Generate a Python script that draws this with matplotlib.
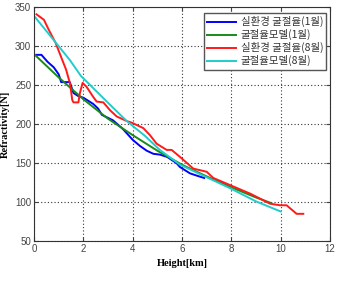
import matplotlib
matplotlib.use("Agg")
import matplotlib.pyplot as plt

# Data
blue_x = [0.1, 0.3, 0.55, 0.8, 1.0, 1.1, 1.45, 1.6, 1.8, 2.0, 2.4, 2.6, 2.75, 3.2, 3.6, 4.0, 4.3, 4.57, 4.84, 5.1, 5.4, 5.78, 5.92, 6.32, 6.6, 6.9]
blue_y = [289, 289, 280, 273, 264, 254, 254, 240, 236, 234, 226, 220, 212, 205, 194, 180, 172, 166, 162, 161, 158, 150, 145, 137, 134, 131]

green_x = [0, 1, 2, 3, 4, 5, 6, 7, 8, 9, 9.6]
green_y = [290, 260, 232, 207, 186, 166, 148, 133, 119, 106, 99]

red_x = [0.1, 0.4, 0.6, 0.88, 1.15, 1.3, 1.46, 1.55, 1.6, 1.8, 1.86, 1.97, 2.13, 2.4, 2.54, 2.81, 3.08, 3.35, 3.76, 3.96, 4.43, 4.7, 4.97, 5.38, 5.58, 5.92, 6.46, 7.0, 7.27, 7.94, 8.76, 9.57, 9.97, 10.24, 10.65, 10.92]
red_y = [341, 334, 321, 304, 282, 270, 252, 231, 228, 228, 240, 253, 248, 235, 229, 228, 218, 210, 204, 202, 195, 186, 175, 167, 167, 158, 143, 139, 131, 122, 111, 98, 96, 96, 85, 85]

cyan_x = [0, 0.9, 1.46, 1.9, 3.08, 3.76, 4.5, 5.1, 5.92, 7.13, 7.94, 9.0, 10.0]
cyan_y = [339, 304, 282, 262, 225, 204, 185, 167, 148, 130, 118, 101, 88]

labels = ["실환경 굴절율(1월)", "굴절율모델(1월)", "실환경 굴절율(8월)", "굴절율모델(8월)"]
x_ticks = [0, 2, 4, 6, 8, 10, 12]
y_ticks = [50, 100, 150, 200, 250, 300, 350]

plt.rcParams['font.family'] = ['Noto Sans CJK KR', 'DejaVu Sans']

fig = plt.figure(figsize=(3.37, 2.81), dpi=100)
ax = fig.add_axes([0.101, 0.142, 0.878, 0.832])

ax.plot(blue_x, blue_y, color='#0000ff', lw=1.4, label=labels[0])
ax.plot(green_x, green_y, color='#1a8a1a', lw=1.4, label=labels[1])
ax.plot(red_x, red_y, color='#ff1a1a', lw=1.4, label=labels[2])
ax.plot(cyan_x, cyan_y, color='#22cccc', lw=1.4, label=labels[3])

ax.set_xlim(0, 12)
ax.set_ylim(50, 350)
ax.set_xticks(x_ticks)
ax.set_yticks(y_ticks)
ax.tick_params(direction='in', length=3, labelsize=7, colors='#444444',
               top=True, right=True, pad=2)
for lab in ax.get_xticklabels() + ax.get_yticklabels():
    lab.set_family('Liberation Sans')
ax.grid(True, linestyle=(0, (1, 2)), color='#333333', linewidth=0.8)
for s in ax.spines.values():
    s.set_color('#333333')
    s.set_linewidth(0.8)

ax.set_xlabel("Height[km]", family='Liberation Serif', fontweight='bold', fontsize=7.5)
ax.set_ylabel("Refractivity[N]", family='Liberation Serif', fontweight='bold', fontsize=7.5)
ax.xaxis.set_label_coords(0.5, -0.075)
ax.yaxis.set_label_coords(-0.08, 0.5)

leg = ax.legend(loc='upper right', bbox_to_anchor=(0.988, 0.975), fontsize=7.5,
                frameon=True, fancybox=False, edgecolor='#555555', framealpha=1,
                handlelength=2.8, handletextpad=0.4, borderpad=0.3, labelspacing=0.18,
                borderaxespad=0)
for t in leg.get_texts():
    t.set_color('#333333')

fig.savefig("out.png", dpi=100)
